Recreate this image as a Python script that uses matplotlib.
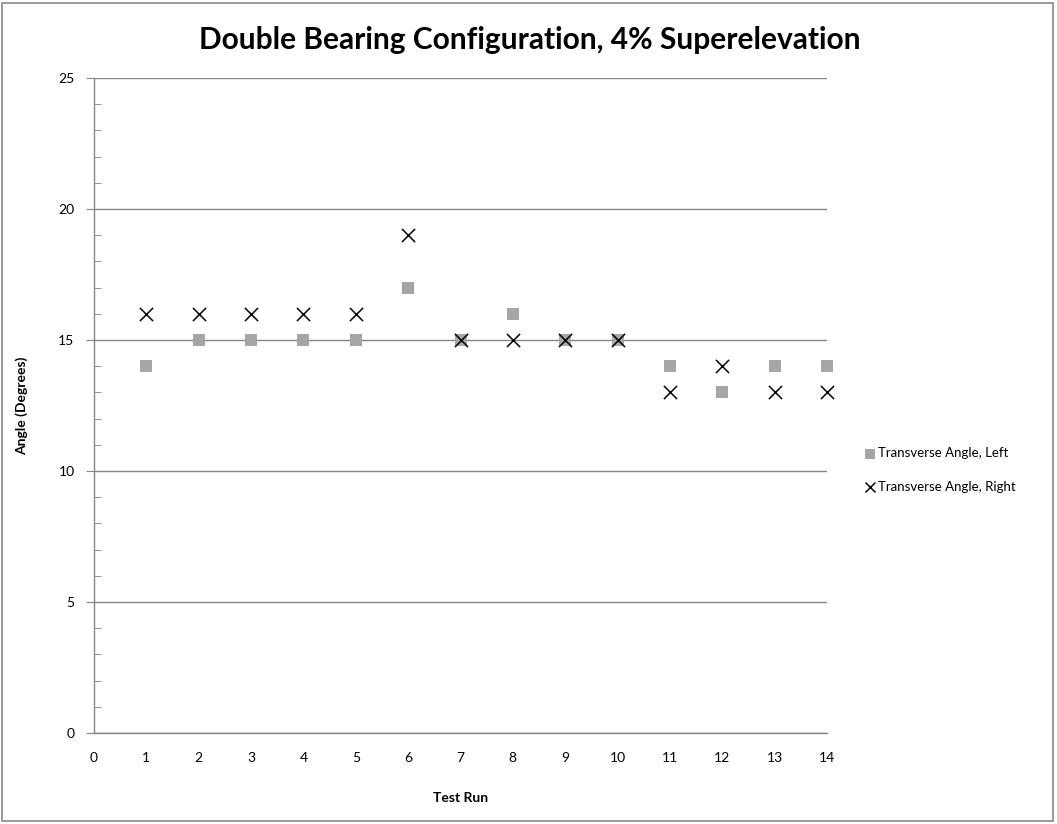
import matplotlib
matplotlib.use("Agg")
import matplotlib.pyplot as plt
from matplotlib.ticker import MultipleLocator
from matplotlib.patches import Rectangle

plt.rcParams['font.family'] = ['Lato', 'DejaVu Sans']

test_runs = [1, 2, 3, 4, 5, 6, 7, 8, 9, 10, 11, 12, 13, 14]
left_angle = [14, 15, 15, 15, 15, 17, 15, 16, 15, 15, 14, 13, 14, 14]
right_angle = [16, 16, 16, 16, 16, 19, 15, 15, 15, 15, 13, 14, 13, 13]

fig = plt.figure(figsize=(10.57, 8.24), dpi=100)
ax = fig.add_axes([94/1057, 1-733/824, (827-94)/1057, (733-78)/824])

# figure border
fig.patches.append(Rectangle((2/1057, 3/824), 1051/1057, 818/824, transform=fig.transFigure,
                             fill=False, edgecolor='#888888', linewidth=1.2))

ax.scatter(test_runs, left_angle, marker='s', s=75, color='#a6a6a6', linewidths=0,
           label='Transverse Angle, Left', zorder=3, clip_on=False)
ax.scatter(test_runs, right_angle, marker='x', s=90, color='black', linewidths=1.1,
           label='Transverse Angle, Right', zorder=4, clip_on=False)

ax.set_xlim(0, 14)
ax.set_ylim(0, 25)
ax.xaxis.set_major_locator(MultipleLocator(1))
ax.yaxis.set_major_locator(MultipleLocator(5))
ax.yaxis.set_minor_locator(MultipleLocator(1))
ax.grid(axis='y', which='major', color='#868686', linewidth=1.0)
ax.set_axisbelow(True)

for s in ['top', 'right']:
    ax.spines[s].set_visible(False)
for s in ['left', 'bottom']:
    ax.spines[s].set_color('#868686')
    ax.spines[s].set_linewidth(1.0)

ax.tick_params(axis='y', which='major', direction='out', length=6, color='#868686',
               labelsize=10, pad=8)
ax.tick_params(axis='y', which='minor', direction='in', length=5, color='#868686')
ax.tick_params(axis='x', which='major', length=0, labelsize=10, pad=14)

ax.set_xlabel('Test Run', fontsize=10, fontweight='bold', labelpad=20)
ax.set_ylabel('Angle (Degrees)', fontsize=10, fontweight='bold', labelpad=22)
fig.suptitle('Double Bearing Configuration, 4% Superelevation', fontsize=21.5,
             fontweight='bold', x=530/1057, y=1-40/824, va='center')

leg = ax.legend(loc='center left', bbox_to_anchor=(852/1057, 1-470/824),
                bbox_transform=fig.transFigure, frameon=False, fontsize=9.5,
                handletextpad=0.05, labelspacing=1.6, handlelength=1.0,
                markerscale=0.75)

fig.savefig('out.png', dpi=100)
